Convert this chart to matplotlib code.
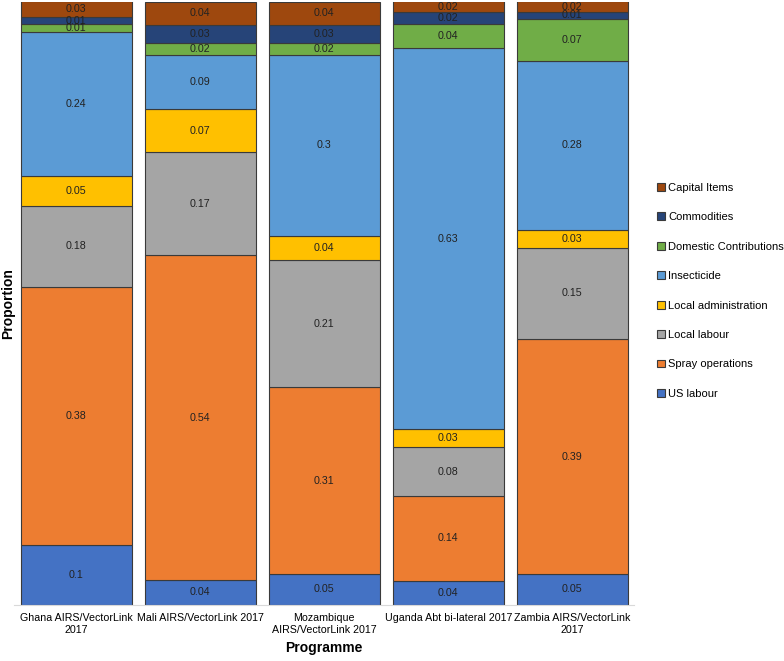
import numpy as np
import matplotlib
matplotlib.use('Agg')
import matplotlib.pyplot as plt

plt.rcParams['font.family'] = ['Liberation Sans', 'DejaVu Sans']

programmes = ['Ghana AIRS/VectorLink\n2017', 'Mali AIRS/VectorLink 2017',
              'Mozambique\nAIRS/VectorLink 2017', 'Uganda Abt bi-lateral 2017',
              'Zambia AIRS/VectorLink\n2017']

# stacking order, bottom to top
categories = ['US labour', 'Spray operations', 'Local labour', 'Local administration',
              'Insecticide', 'Domestic Contributions', 'Commodities', 'Capital Items']
colors = ['#4472C4', '#ED7D31', '#A5A5A5', '#FFC000',
          '#5B9BD5', '#70AD47', '#264478', '#9E480E']

# segment heights as drawn
us_labour = [0.100, 0.041, 0.051, 0.040, 0.051]
spray_ops = [0.428, 0.539, 0.310, 0.141, 0.390]
local_labour = [0.134, 0.171, 0.211, 0.080, 0.151]
local_admin = [0.050, 0.071, 0.040, 0.030, 0.030]
insecticide = [0.239, 0.090, 0.300, 0.632, 0.280]
domestic = [0.012, 0.020, 0.020, 0.040, 0.070]
commodities = [0.012, 0.030, 0.030, 0.020, 0.012]
capital = [0.027, 0.038, 0.038, 0.018, 0.017]

# printed data labels
lab_us = ['0.1', '0.04', '0.05', '0.04', '0.05']
lab_spray = ['0.38', '0.54', '0.31', '0.14', '0.39']
lab_labour = ['0.18', '0.17', '0.21', '0.08', '0.15']
lab_admin = ['0.05', '0.07', '0.04', '0.03', '0.03']
lab_insect = ['0.24', '0.09', '0.3', '0.63', '0.28']
lab_dom = ['0.01', '0.02', '0.02', '0.04', '0.07']
lab_comm = ['0.01', '0.03', '0.03', '0.02', '0.01']
lab_cap = ['0.03', '0.04', '0.04', '0.02', '0.02']

series = [us_labour, spray_ops, local_labour, local_admin,
          insecticide, domestic, commodities, capital]
labels = [lab_us, lab_spray, lab_labour, lab_admin,
          lab_insect, lab_dom, lab_comm, lab_cap]

fig = plt.figure(figsize=(7.84, 6.61), dpi=100)
ax = fig.add_axes([0.018, 0.085, 0.791, 0.912])

x = np.arange(len(programmes))
bottom = np.zeros(len(programmes))
handles = []
for cat, col, vals, labs in zip(categories, colors, series, labels):
    vals = np.array(vals)
    bars = ax.bar(x, vals, 0.895, bottom=bottom, color=col,
                  edgecolor='#3a3a3a', linewidth=0.8, label=cat)
    handles.append(bars)
    for xi, b, v, t in zip(x, bottom, vals, labs):
        ax.text(xi, b + v / 2, t, ha='center', va='center',
                fontsize=7.7, color='#222222')
    bottom += vals

ax.set_xlim(-0.5, 4.5)
ax.set_ylim(0, 1)
ax.set_yticks([])
ax.set_xticks(x)
ax.set_xticklabels(programmes, fontsize=7.7)
ax.tick_params(axis='x', length=0, pad=6)
for s in ['top', 'right', 'left']:
    ax.spines[s].set_visible(False)
ax.spines['bottom'].set_color('#d9d9d9')

fig.text(0.413, 0.009, 'Programme', ha='center', va='bottom',
         fontsize=10, fontweight='bold')
fig.text(0.011, 0.54, 'Proportion', rotation=90, ha='center', va='center',
         fontsize=10, fontweight='bold')

fig.legend(handles[::-1], categories[::-1], loc='center left',
           bbox_to_anchor=(0.825, 0.56), frameon=False, fontsize=8,
           handlelength=0.7, handleheight=0.7, handletextpad=0.3,
           labelspacing=1.75)

fig.savefig('out.png', dpi=100)
